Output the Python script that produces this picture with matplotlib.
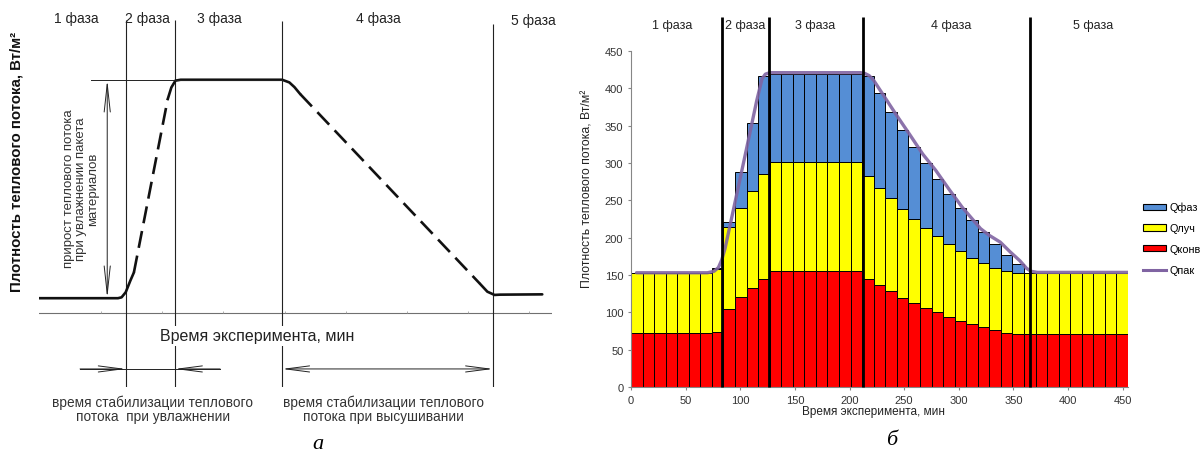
import numpy as np
import matplotlib.pyplot as plt
from matplotlib.patches import Patch
from matplotlib.lines import Line2D

plt.rcParams['font.family'] = ['Liberation Sans', 'DejaVu Sans']

W, H = 1203, 452


def fx(x):
    return x / W


def fy(y):
    return 1 - y / H


# ---------- (а) схема изменения теплового потока ----------
phases_a = [16.9, 26.5, 47.4, 88.5]
phase_top_a = [99.0, 99.0, 98.5, 97.6]
axis_ticks_a = [12.1, 24.0, 35.9, 47.9, 59.8, 71.7, 83.7, 95.6]

rise_x = [0.0, 15.4, 16.1, 16.9, 17.8, 18.5]
rise_y = [5.0, 5.0, 5.3, 7.0, 10.9, 13.7]
rise_dash_x = [18.5, 25.1]
rise_dash_y = [13.7, 72.3]
top_x = [25.1, 25.8, 26.6, 27.6, 47.4, 48.8, 49.8, 50.9]
top_y = [72.3, 76.2, 78.5, 78.8, 78.8, 77.9, 76.3, 74.0]
fall_dash_x = [50.9, 86.0]
fall_dash_y = [74.0, 9.8]
end_x = [86.0, 87.4, 88.8, 89.9, 98.1]
end_y = [9.8, 7.2, 6.1, 6.2, 6.3]

# ---------- (б) составляющие плотности теплового потока ----------
q_konv = [72, 72, 72, 72, 72, 72, 72, 74, 105, 120, 133, 144,
          155, 155, 155, 155, 155, 155, 155, 155,
          144, 136, 128, 119, 112, 106, 100, 94, 89, 84, 80, 76, 72, 71, 71,
          71, 71, 71, 71, 71, 71, 71, 71]
q_luch = [81, 81, 81, 81, 81, 81, 81, 84, 109, 120, 130, 141,
          147, 147, 147, 147, 147, 147, 147, 147,
          139, 131, 125, 120, 113, 107, 102, 98, 93, 89, 86, 84, 84, 82, 82,
          82, 82, 82, 82, 82, 82, 82, 82]
q_faz = [0, 0, 0, 0, 0, 0, 0, 2, 7, 48, 90, 132,
         117, 117, 117, 117, 117, 117, 117, 117,
         133, 127, 115, 105, 96, 87, 76, 67, 58, 50, 41, 32, 21, 12, 0,
         0, 0, 0, 0, 0, 0, 0, 0]

t_pak = [5, 70, 76, 80, 83, 86, 95, 105, 115, 120, 123, 127, 210, 214, 218,
         222, 230.5, 242.6, 254.7, 267, 279, 291, 303, 320, 328, 338, 347,
         356, 362, 366, 372, 455]
q_pak = [153, 153, 155, 160, 170, 185, 246, 314, 383, 413, 419, 421, 421, 420,
         417, 411, 392, 365, 339, 312, 290, 265, 241, 212, 203, 194, 181,
         169, 159, 155, 153.5, 153.5]

phases_b = [83.6, 126.3, 212.3, 365.2]
T_MAX = 454.9
BAR_W = T_MAX / len(q_konv)

C_FAZ = '#558ED5'
C_LUCH = '#FFFF00'
C_KONV = '#FF0000'
C_PAK = '#8064A2'

fig = plt.figure(figsize=(W / 100, H / 100), dpi=100)

# ===== левая схема =====
ax_a = fig.add_axes([fx(39), fy(388), 513 / W, 370 / H])
ax_a.set_xlim(0, 100)
ax_a.set_ylim(-25, 100)
ax_a.axis('off')

ax_a.plot([0, 100], [0, 0], color='#707070', lw=0.8)
ax_a.vlines(axis_ticks_a, 0, 0.8, color='#a0a0a0', lw=0.6)
ax_a.vlines(phases_a, -25, phase_top_a, color='#222222', lw=0.8)

kw = dict(color='#111111', lw=1.9, solid_capstyle='round')
ax_a.plot(rise_x, rise_y, **kw)
ax_a.plot(rise_dash_x, rise_dash_y, dashes=(6.5, 3), **kw)
ax_a.plot(top_x, top_y, **kw)
ax_a.plot(fall_dash_x, fall_dash_y, dashes=(6.5, 3), **kw)
ax_a.plot(end_x, end_y, **kw)

# прирост теплового потока
ax_a.plot([10.2, 47.4], [top_y[3], top_y[3]], color='#222222', lw=0.7)
ax_a.annotate('', xy=(13.3, top_y[3]), xytext=(13.3, rise_y[0]),
              arrowprops=dict(arrowstyle='<->,head_length=2.0,head_width=0.22',
                              lw=0.7, color='#222222', shrinkA=0, shrinkB=0))

# интервалы стабилизации
y_arr = -18.9
ax_a.plot([8.0, 35.3], [y_arr, y_arr], color='#222222', lw=0.7)
arr = dict(arrowstyle='->,head_length=1.7,head_width=0.22', lw=0.7,
           color='#222222', shrinkA=0, shrinkB=0)
ax_a.annotate('', xy=(phases_a[0], y_arr), xytext=(8.0, y_arr), arrowprops=arr)
ax_a.annotate('', xy=(phases_a[1], y_arr), xytext=(35.3, y_arr), arrowprops=arr)
ax_a.annotate('', xy=(phases_a[3], y_arr), xytext=(phases_a[2], y_arr),
              arrowprops=dict(arr, arrowstyle='<->,head_length=1.7,head_width=0.22'))

for x, y, s in [(76, 19.3, '1 фаза'), (147.7, 19.3, '2 фаза'), (219, 19.3, '3 фаза'),
                (378, 19.3, '4 фаза'), (533, 20.7, '5 фаза')]:
    fig.text(fx(x), fy(y), s, ha='center', va='center', fontsize=10, color='#222222')

fig.text(fx(17), fy(162), 'Плотность теплового потока, Вт/м²', rotation=90,
         ha='center', va='center', fontsize=10.8, fontweight='bold', color='#111111')
fig.text(fx(81), fy(189), 'прирост теплового потока\nпри увлажнении пакета\nматериалов',
         rotation=90, ha='center', va='center', multialignment='center',
         fontsize=9.5, linespacing=1.05, color='#333333')
fig.text(fx(257), fy(337), 'Время эксперимента, мин', ha='center', va='center',
         fontsize=11.5, color='#222222',
         bbox=dict(facecolor='white', edgecolor='none', pad=1.5))
fig.text(fx(153), fy(410), 'время стабилизации теплового\nпотока  при увлажнении',
         ha='center', va='center', fontsize=9.8, linespacing=1.05, color='#333333')
fig.text(fx(383), fy(410), 'время стабилизации теплового\nпотока при высушивании',
         ha='center', va='center', fontsize=9.8, linespacing=1.05, color='#333333')
fig.text(fx(318), fy(449), 'а', ha='center', va='baseline', fontsize=16,
         family='Liberation Serif', style='italic')

# ===== правый график =====
ax_b = fig.add_axes([fx(631), fy(388), 497 / W, 336 / H])
t = BAR_W * np.arange(len(q_konv))
bkw = dict(width=BAR_W, align='edge', edgecolor='black', linewidth=0.7)
ax_b.bar(t, q_konv, color=C_KONV, **bkw)
ax_b.bar(t, q_luch, bottom=q_konv, color=C_LUCH, **bkw)
ax_b.bar(t, q_faz, bottom=np.add(q_konv, q_luch), color=C_FAZ, **bkw)
ax_b.plot(t_pak, q_pak, color=C_PAK, lw=2.4, alpha=0.9, solid_capstyle='round')
ax_b.vlines(phases_b, 0, 495, color='black', lw=2.0, clip_on=False, zorder=4)

ax_b.set_xlim(0, T_MAX)
ax_b.set_ylim(0, 450)
ax_b.set_xticks(np.arange(0, 451, 50))
ax_b.set_yticks(np.arange(0, 451, 50))
for side in ('top', 'right'):
    ax_b.spines[side].set_visible(False)
for side in ('left', 'bottom'):
    ax_b.spines[side].set_color('#868686')
    ax_b.spines[side].set_linewidth(0.8)
ax_b.tick_params(direction='out', length=2.5, width=0.8, color='#868686',
                 labelsize=8, labelcolor='#333333', pad=3)

for x, s in [(672, '1 фаза'), (745, '2 фаза'), (815, '3 фаза'),
             (951.5, '4 фаза'), (1093, '5 фаза')]:
    fig.text(fx(x), fy(25.5), s, ha='center', va='center', fontsize=9, color='#222222')

fig.text(fx(588), fy(189), 'Плотность теплового потока, Вт/м²', rotation=90,
         ha='center', va='center', fontsize=8.8, color='#222222')
fig.text(fx(874), fy(412), 'Время эксперимента, мин', ha='center', va='center',
         fontsize=8.5, color='#222222')
fig.text(fx(892), fy(445), 'б', ha='center', va='baseline', fontsize=16,
         family='Liberation Serif', style='italic')

handles = [Patch(facecolor=C_FAZ, edgecolor='black', linewidth=0.8),
           Patch(facecolor=C_LUCH, edgecolor='black', linewidth=0.8),
           Patch(facecolor=C_KONV, edgecolor='black', linewidth=0.8),
           Line2D([], [], color=C_PAK, lw=2.2)]
fig.legend(handles, ['Qфаз', 'Qлуч', 'Qконв', 'Qпак'], loc='upper left',
           bbox_to_anchor=(fx(1143), fy(203)), frameon=False, borderpad=0,
           borderaxespad=0, handlelength=2.1, handleheight=0.5,
           handletextpad=0.3, labelspacing=1.0, fontsize=7.8)

fig.savefig('out.png', dpi=100)
